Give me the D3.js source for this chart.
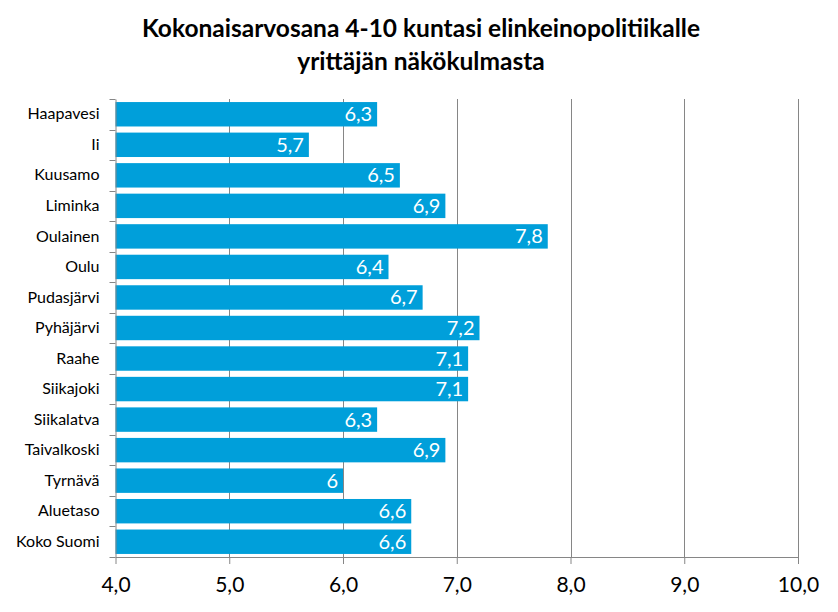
<!DOCTYPE html>
<html><head><meta charset="utf-8">
<script src="https://cdn.jsdelivr.net/npm/d3@7"></script>
<style>body{margin:0;background:#fff}svg{display:block}</style>
</head><body>
<svg id="c" width="838" height="612"></svg>
<script>
const categories = ["Haapavesi","Ii","Kuusamo","Liminka","Oulainen","Oulu","Pudasjärvi","Pyhäjärvi","Raahe","Siikajoki","Siikalatva","Taivalkoski","Tyrnävä","Aluetaso","Koko Suomi"];
const values = [6.3,5.7,6.5,6.9,7.8,6.4,6.7,7.2,7.1,7.1,6.3,6.9,6.0,6.6,6.6];
const valueLabels = ["6,3","5,7","6,5","6,9","7,8","6,4","6,7","7,2","7,1","7,1","6,3","6,9","6","6,6","6,6"];
const xTicks = [4,5,6,7,8,9,10];
const titleLines = ["Kokonaisarvosana 4-10 kuntasi elinkeinopolitiikalle","yrittäjän näkökulmasta"];

const svg = d3.select("#c");
const L = 115.5, R = 798, T = 99, B = 557;
const x = d3.scaleLinear().domain([4,10]).range([L,R]);
const y = d3.scaleBand().domain(categories).range([T,B]).paddingInner(0.2).paddingOuter(0.1);
const font = "Lato, 'Open Sans', sans-serif";

// title
svg.selectAll("text.title").data(titleLines).enter().append("text")
  .attr("x",421).attr("y",(d,i)=>37+i*33).attr("text-anchor","middle")
  .attr("font-family",font).attr("font-weight","bold").attr("font-size",24.5).attr("fill","#000")
  .text(d=>d);

// gridlines
svg.append("g").selectAll("line").data(xTicks.slice(1)).enter().append("line")
  .attr("x1",d=>Math.round(x(d))+0.5).attr("x2",d=>Math.round(x(d))+0.5)
  .attr("y1",T).attr("y2",B).attr("stroke","#868686").attr("stroke-width",1);

// bars
svg.append("g").selectAll("rect").data(categories).enter().append("rect")
  .attr("x",x(4)).attr("y",d=>y(d))
  .attr("width",(d,i)=>x(values[i])-x(4)).attr("height",y.bandwidth())
  .attr("fill","#009FDA");

// value labels
svg.append("g").selectAll("text").data(categories).enter().append("text")
  .attr("x",(d,i)=>x(values[i])-5).attr("y",d=>y(d)+y.bandwidth()/2+7)
  .attr("text-anchor","end").attr("font-family",font).attr("font-size",20).attr("fill","#fff")
  .text((d,i)=>valueLabels[i]);

// x axis
const xa = svg.append("g").attr("transform",`translate(0,${B})`)
  .call(d3.axisBottom(x).tickValues(xTicks).tickSize(7).tickPadding(13).tickSizeOuter(0)
    .tickFormat(d=>d3.format(".1f")(d).replace(".",",")));
xa.select(".domain").attr("stroke","#868686");
xa.selectAll(".tick line").attr("stroke","#868686");
xa.selectAll("text").attr("font-family",font).attr("font-size",21).attr("fill","#000");

// y axis
const ya = svg.append("g").attr("transform",`translate(${L},0)`)
  .call(d3.axisLeft(y).tickSize(0).tickPadding(16));
ya.select(".domain").attr("stroke","#868686");
ya.selectAll("text").attr("font-family",font).attr("font-size",16).attr("fill","#000");
// category boundary ticks
const bounds = categories.map(c=>y(c)-y.step()*y.paddingInner()/2).concat([B]);
svg.append("g").selectAll("line").data(bounds).enter().append("line")
  .attr("x1",L-6).attr("x2",L).attr("y1",d=>Math.round(d)+0.5).attr("y2",d=>Math.round(d)+0.5)
  .attr("stroke","#868686");
</script>
</body></html>
